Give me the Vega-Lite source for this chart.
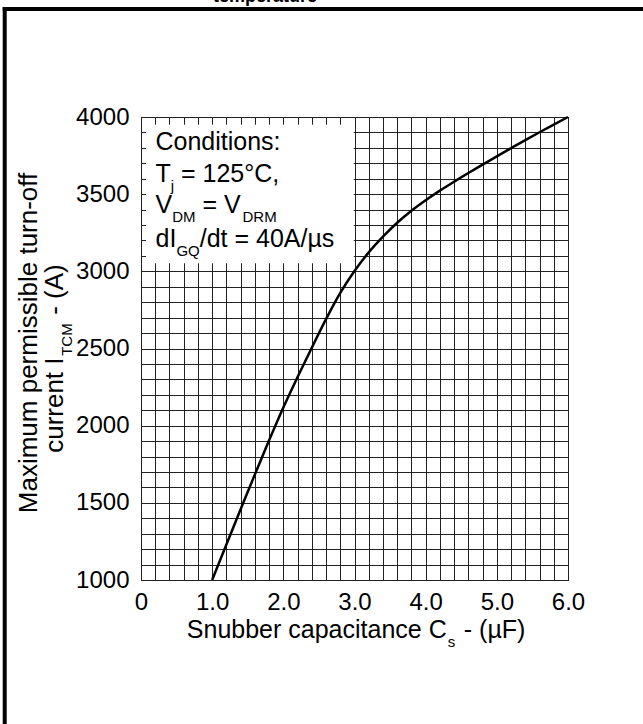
{
  "$schema": "https://vega.github.io/schema/vega-lite/v6.json",
  "width": 427,
  "height": 463,
  "autosize": {"type": "none"},
  "padding": {"left": 141, "top": 117, "right": 75, "bottom": 144},
  "background": "white",
  "config": {
    "view": {"stroke": "#000", "strokeWidth": 1},
    "font": "Liberation Sans",
    "text": {"font": "Liberation Sans", "color": "#000"}
  },
  "resolve": {"axis": {"x": "independent", "y": "independent"}},
  "layer": [
    {
      "data": {"values": [{}]},
      "mark": {"type": "rect", "fill": "white"},
      "encoding": {
        "x": {"datum": 0.07, "type": "quantitative", "axis": null},
        "x2": {"datum": 2.99},
        "y": {"datum": 3950, "type": "quantitative", "axis": null},
        "y2": {"datum": 3053}
      }
    },
    {
      "data": {"values": [
        {"cs": 1.0, "itcm": 1000},
        {"cs": 1.2, "itcm": 1230},
        {"cs": 1.4, "itcm": 1458},
        {"cs": 1.6, "itcm": 1684},
        {"cs": 1.8, "itcm": 1905},
        {"cs": 2.0, "itcm": 2118},
        {"cs": 2.2, "itcm": 2315},
        {"cs": 2.4, "itcm": 2505},
        {"cs": 2.6, "itcm": 2690},
        {"cs": 2.8, "itcm": 2860},
        {"cs": 3.0, "itcm": 3002},
        {"cs": 3.2, "itcm": 3123},
        {"cs": 3.4, "itcm": 3225},
        {"cs": 3.6, "itcm": 3315},
        {"cs": 3.8, "itcm": 3393},
        {"cs": 4.0, "itcm": 3461},
        {"cs": 4.2, "itcm": 3523},
        {"cs": 4.4, "itcm": 3581},
        {"cs": 4.6, "itcm": 3637},
        {"cs": 4.8, "itcm": 3691},
        {"cs": 5.0, "itcm": 3745},
        {"cs": 5.2, "itcm": 3798},
        {"cs": 5.4, "itcm": 3850},
        {"cs": 5.6, "itcm": 3901},
        {"cs": 5.8, "itcm": 3951},
        {"cs": 6.0, "itcm": 4000}
      ]},
      "mark": {"type": "line", "color": "#000", "strokeWidth": 2.5, "interpolate": "monotone"},
      "encoding": {
        "x": {
          "field": "cs", "type": "quantitative",
          "scale": {"domain": [0, 6], "nice": false, "zero": false},
          "axis": {
            "values": [0,0.2,0.4,0.6,0.8,1,1.2,1.4,1.6,1.8,2,2.2,2.4,2.6,2.8,3,3.2,3.4,3.6,3.8,4,4.2,4.4,4.6,4.8,5,5.2,5.4,5.6,5.8,6],
            "grid": true, "gridColor": "#222", "gridWidth": 1, "gridOpacity": 1,
            "ticks": false, "tickSize": 0, "domain": false,
            "labelExpr": "datum.value == 0 ? '0' : (abs(datum.value - round(datum.value)) < 0.01 ? format(datum.value, '.1f') : '')",
            "labelFontSize": 24, "labelColor": "#000", "labelFont": "Liberation Sans",
            "labelPadding": 10, "labelOverlap": false, "labelFlush": false, "labelBound": false,
            "title": null
          }
        },
        "y": {
          "field": "itcm", "type": "quantitative",
          "scale": {"domain": [1000, 4000], "nice": false, "zero": false},
          "axis": {
            "values": [1000,1100,1200,1300,1400,1500,1600,1700,1800,1900,2000,2100,2200,2300,2400,2500,2600,2700,2800,2900,3000,3100,3200,3300,3400,3500,3600,3700,3800,3900,4000],
            "grid": true, "gridColor": "#222", "gridWidth": 1, "gridOpacity": 1,
            "ticks": false, "tickSize": 0, "domain": false,
            "labelExpr": "datum.value % 500 == 0 ? format(datum.value, 'd') : ''",
            "labelFontSize": 24, "labelColor": "#000", "labelFont": "Liberation Sans",
            "labelPadding": 12, "labelOverlap": false, "labelFlush": false, "labelBound": false,
            "title": null
          }
        }
      }
    },
    {
      "data": {"values": [{}]},
      "resolve": {"axis": {"x": "independent", "y": "independent"}},
      "layer": [
        {"mark": {"type": "text", "text": "Conditions:", "align": "left", "baseline": "alphabetic", "fontSize": 25},
         "encoding": {"x": {"datum": 0.2037, "type": "quantitative", "axis": null}, "y": {"datum": 3786, "type": "quantitative", "axis": null}}},
        {"mark": {"type": "text", "text": "T", "align": "left", "baseline": "alphabetic", "fontSize": 25},
         "encoding": {"x": {"datum": 0.2037, "type": "quantitative", "axis": null}, "y": {"datum": 3581, "type": "quantitative", "axis": null}}},
        {"mark": {"type": "text", "text": "j", "align": "left", "baseline": "alphabetic", "fontSize": 15, "dx": 15.3, "dy": 9},
         "encoding": {"x": {"datum": 0.2037, "type": "quantitative", "axis": null}, "y": {"datum": 3581, "type": "quantitative", "axis": null}}},
        {"mark": {"type": "text", "text": "= 125°C,", "align": "left", "baseline": "alphabetic", "fontSize": 25, "dx": 25.5},
         "encoding": {"x": {"datum": 0.2037, "type": "quantitative", "axis": null}, "y": {"datum": 3581, "type": "quantitative", "axis": null}}},
        {"mark": {"type": "text", "text": "V", "align": "left", "baseline": "alphabetic", "fontSize": 25},
         "encoding": {"x": {"datum": 0.2037, "type": "quantitative", "axis": null}, "y": {"datum": 3376, "type": "quantitative", "axis": null}}},
        {"mark": {"type": "text", "text": "DM", "align": "left", "baseline": "alphabetic", "fontSize": 15, "dx": 16.7, "dy": 9},
         "encoding": {"x": {"datum": 0.2037, "type": "quantitative", "axis": null}, "y": {"datum": 3376, "type": "quantitative", "axis": null}}},
        {"mark": {"type": "text", "text": "= V", "align": "left", "baseline": "alphabetic", "fontSize": 25, "dx": 47},
         "encoding": {"x": {"datum": 0.2037, "type": "quantitative", "axis": null}, "y": {"datum": 3376, "type": "quantitative", "axis": null}}},
        {"mark": {"type": "text", "text": "DRM", "align": "left", "baseline": "alphabetic", "fontSize": 15, "dx": 87, "dy": 9},
         "encoding": {"x": {"datum": 0.2037, "type": "quantitative", "axis": null}, "y": {"datum": 3376, "type": "quantitative", "axis": null}}},
        {"mark": {"type": "text", "text": "dI", "align": "left", "baseline": "alphabetic", "fontSize": 25},
         "encoding": {"x": {"datum": 0.2037, "type": "quantitative", "axis": null}, "y": {"datum": 3160, "type": "quantitative", "axis": null}}},
        {"mark": {"type": "text", "text": "GQ", "align": "left", "baseline": "alphabetic", "fontSize": 15, "dx": 20.9, "dy": 9},
         "encoding": {"x": {"datum": 0.2037, "type": "quantitative", "axis": null}, "y": {"datum": 3160, "type": "quantitative", "axis": null}}},
        {"mark": {"type": "text", "text": "/dt = 40A/µs", "align": "left", "baseline": "alphabetic", "fontSize": 25, "dx": 44.2},
         "encoding": {"x": {"datum": 0.2037, "type": "quantitative", "axis": null}, "y": {"datum": 3160, "type": "quantitative", "axis": null}}},
        {"mark": {"type": "text", "text": "Snubber capacitance C", "align": "left", "baseline": "alphabetic", "fontSize": 25},
         "encoding": {"x": {"datum": 0.6436, "type": "quantitative", "axis": null}, "y": {"datum": 624, "type": "quantitative", "axis": null}}},
        {"mark": {"type": "text", "text": "s", "align": "left", "baseline": "alphabetic", "fontSize": 15, "dx": 261, "dy": 9},
         "encoding": {"x": {"datum": 0.6436, "type": "quantitative", "axis": null}, "y": {"datum": 624, "type": "quantitative", "axis": null}}},
        {"mark": {"type": "text", "text": "- (µF)", "align": "left", "baseline": "alphabetic", "fontSize": 25, "dx": 277},
         "encoding": {"x": {"datum": 0.6436, "type": "quantitative", "axis": null}, "y": {"datum": 624, "type": "quantitative", "axis": null}}},
        {"mark": {"type": "text", "text": "Maximum permissible turn-off", "align": "center", "baseline": "alphabetic", "fontSize": 26, "angle": 270},
         "encoding": {"x": {"datum": -1.468, "type": "quantitative", "axis": null}, "y": {"datum": 2536, "type": "quantitative", "axis": null}}},
        {"mark": {"type": "text", "text": "current I", "align": "left", "baseline": "alphabetic", "fontSize": 26, "angle": 270},
         "encoding": {"x": {"datum": -1.096, "type": "quantitative", "axis": null}, "y": {"datum": 1824, "type": "quantitative", "axis": null}}},
        {"mark": {"type": "text", "text": "TCM", "align": "left", "baseline": "alphabetic", "fontSize": 15, "angle": 270, "dx": 97, "dy": 9},
         "encoding": {"x": {"datum": -1.096, "type": "quantitative", "axis": null}, "y": {"datum": 1824, "type": "quantitative", "axis": null}}},
        {"mark": {"type": "text", "text": "- (A)", "align": "left", "baseline": "alphabetic", "fontSize": 26, "angle": 270, "dx": 138},
         "encoding": {"x": {"datum": -1.096, "type": "quantitative", "axis": null}, "y": {"datum": 1824, "type": "quantitative", "axis": null}}},
        {"mark": {"type": "text", "text": "temperature", "align": "center", "baseline": "alphabetic", "fontSize": 18, "fontWeight": "bold"},
         "encoding": {"x": {"datum": 1.742, "type": "quantitative", "axis": null}, "y": {"datum": 4748, "type": "quantitative", "axis": null}}},
        {"mark": {"type": "rule", "color": "#000", "strokeWidth": 4, "strokeCap": "square"},
         "encoding": {"x": {"datum": -1.915, "type": "quantitative", "axis": null}, "x2": {"datum": 7.4}, "y": {"datum": 4700, "type": "quantitative", "axis": null}}},
        {"mark": {"type": "rule", "color": "#000", "strokeWidth": 4, "strokeCap": "square"},
         "encoding": {"x": {"datum": -1.915, "type": "quantitative", "axis": null}, "y": {"datum": 4700, "type": "quantitative", "axis": null}, "y2": {"datum": -100}}}
      ]
    }
  ]
}
